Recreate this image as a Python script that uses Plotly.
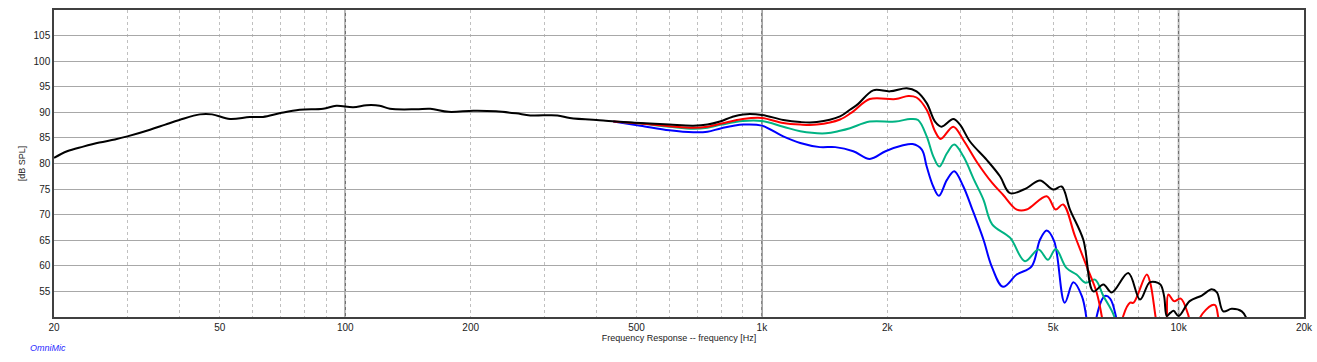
import plotly.graph_objects as go

# ---- data (frequency in Hz, level in dB SPL) ----
black_f = [20, 21.5, 23.5, 25.7, 28, 30, 34, 37, 40, 44.8, 47.9, 52.9, 59, 63.5, 69.9, 77.7, 88.5, 95.2,
           104.5, 112.5, 121, 128, 148, 160, 177, 203, 230, 257, 278, 323, 346, 416, 446, 511, 600, 684,
           740, 793, 848, 902, 1000, 1125, 1236, 1354, 1540, 1627, 1700, 1850, 2030, 2226, 2350, 2486,
           2603, 2700, 2879, 2988, 3158, 3464, 3727, 3940, 4320, 4649, 5005, 5240, 5488, 5907, 6244,
           6600, 6911, 7574, 8083, 8540, 9030, 9230, 9370, 9550, 9730, 10000, 10630, 11370, 12010,
           12360, 12800, 13410, 14180, 14600]
black_db = [81.1, 82.4, 83.3, 84.1, 84.7, 85.3, 86.6, 87.6, 88.5, 89.6, 89.6, 88.7, 89.1, 89.1, 89.85, 90.5,
            90.7, 91.3, 91.0, 91.4, 91.3, 90.7, 90.6, 90.7, 90.1, 90.3, 90.2, 89.8, 89.4, 89.4, 88.9, 88.4,
            88.2, 87.9, 87.6, 87.4, 87.6, 88.2, 89.1, 89.6, 89.5, 88.5, 88.1, 88.1, 89.2, 90.5, 91.6, 94.3,
            94.1, 94.7, 94.1, 91.8, 88.2, 87.2, 88.7, 87.6, 84.3, 80.7, 77.5, 74.2, 75.2, 76.7, 74.9, 75.5,
            71.0, 65.1, 55.0, 56.35, 54.8, 58.6, 53.4, 56.8, 56.4, 54.1, 50.2, 50.8, 51.2, 50.2, 53.1, 54.2,
            55.4, 54.8, 51.1, 51.6, 51.1, 49.5]

red_f = [440, 511, 600, 684, 740, 800, 900, 1000, 1125, 1236, 1354, 1540, 1657, 1815, 2094, 2246, 2350,
         2486, 2603, 2685, 2879, 3044, 3292, 3570, 3790, 4089, 4320, 4825, 5072, 5283, 5642, 6018, 6364,
         6540, 6700, 7200, 7366, 7650, 7800, 8386, 8550, 8800, 9000, 9330, 9450, 9750, 10120, 10540,
         10800, 11100, 11280, 12010, 12250, 12450, 12700]
red_db = [88.2, 87.8, 87.3, 87.0, 87.2, 87.8, 88.7, 88.9, 87.9, 87.6, 87.6, 88.6, 90.2, 92.6, 92.6, 93.2,
          92.9, 90.5, 86.3, 84.8, 87.2, 84.6, 80.1, 76.2, 73.9, 71.0, 71.0, 73.6, 71.0, 72.0, 65.8, 59.9,
          54.7, 50.2, 45, 45, 50.2, 52.8, 52.8, 58.3, 56.7, 50.2, 45, 48, 54.4, 53.1, 53.6, 50.5, 47, 47,
          50.0, 52.3, 52.3, 50.0, 46]

green_f = [460, 511, 600, 684, 740, 800, 900, 1000, 1125, 1236, 1425, 1540, 1627, 1815, 2094, 2270, 2370,
           2486, 2578, 2665, 2780, 2895, 3044, 3230, 3403, 3570, 3940, 4280, 4610, 4860, 5072, 5380, 5690,
           5980, 6300, 6600, 7000, 7200]
green_db = [88.1, 87.8, 87.2, 86.8, 87.0, 87.6, 88.3, 88.3, 87.2, 86.3, 85.9, 86.4, 86.9, 88.2, 88.2, 88.7,
            88.5, 85.3, 81.4, 79.4, 82.0, 83.7, 81.4, 76.8, 72.9, 68.1, 65.5, 60.9, 63.2, 61.2, 63.3, 59.6,
            58.3, 56.7, 57.3, 54.1, 50.2, 45]

blue_f = [440, 511, 600, 684, 740, 800, 902, 1000, 1125, 1236, 1378, 1500, 1657, 1815, 1980, 2170, 2300,
          2420, 2486, 2578, 2660, 2780, 2895, 3044, 3200, 3403, 3560, 3790, 4089, 4440, 4649, 4825, 5030,
          5330, 5590, 5860, 6000, 6100, 6300, 6364, 6660, 6850, 7070, 7200]
blue_db = [88.2, 87.4, 86.5, 86.1, 86.2, 86.9, 87.6, 87.4, 85.3, 84.0, 83.2, 83.2, 82.4, 80.9, 82.4, 83.5,
           83.8, 82.7, 79.4, 75.5, 73.7, 76.8, 78.5, 75.5, 71.0, 65.1, 59.9, 55.9, 58.3, 59.9, 65.1, 66.9,
           64.8, 52.8, 56.8, 54.1, 50.2, 45, 45, 50.2, 54.1, 53.6, 50.2, 45]

x_tickvals = [20, 50, 100, 200, 500, 1000, 2000, 5000, 10000, 20000]
x_ticktext = ["20", "50", "100", "200", "500", "1k", "2k", "5k", "10k", "20k"]
x_minor = [30, 40, 60, 70, 80, 90, 300, 400, 600, 700, 800, 900,
           3000, 4000, 6000, 7000, 8000, 9000]
x_decades = [100, 1000, 10000]
y_tickvals = [55, 60, 65, 70, 75, 80, 85, 90, 95, 100, 105]

fig = go.Figure()
for f, d, c in [(blue_f, blue_db, "#0000ff"), (green_f, green_db, "#00b383"),
                (red_f, red_db, "#ff0000"), (black_f, black_db, "#000000")]:
    fig.add_trace(go.Scatter(x=f, y=d, mode="lines", line=dict(color=c, width=2),
                             line_shape="spline", showlegend=False, hoverinfo="skip"))

for v in x_decades:
    fig.add_shape(type="line", xref="x", yref="paper", x0=v, x1=v, y0=0, y1=1,
                  line=dict(color="#707070", width=1.5), layer="below")

font = "Liberation Sans, Arial, sans-serif"
fig.update_layout(
    width=1317, height=362,
    margin=dict(l=54, r=13, t=10, b=45),
    paper_bgcolor="white", plot_bgcolor="white",
    font=dict(family=font, size=10, color="#222222"),
    xaxis=dict(
        type="log", range=[1.30103, 4.30103], automargin=False,
        tickvals=x_tickvals, ticktext=x_ticktext, ticks="",
        showgrid=True, gridcolor="#c0c0c0", griddash="dot", gridwidth=1,
        minor=dict(tickvals=x_minor, showgrid=True, gridcolor="#c0c0c0", griddash="dot", ticks=""),
        showline=True, linecolor="#404040", linewidth=1.5, mirror=True,
        zeroline=False,
        title=dict(text="Frequency Response -- frequency [Hz]", standoff=3,
                   font=dict(size=9, color="#222222")),
        tickfont=dict(size=10, color="#222222"),
    ),
    yaxis=dict(
        range=[50, 110], tickvals=y_tickvals, ticks="", automargin=False,
        showgrid=True, gridcolor="#a8a8a8", gridwidth=1.3,
        showline=True, linecolor="#404040", linewidth=1.5, mirror=True,
        zeroline=False,
        title=dict(text="[dB SPL]", standoff=6, font=dict(size=9, color="#222222")),
        tickfont=dict(size=10, color="#222222"),
    ),
    annotations=[dict(text="<i>OmniMic</i>", xref="paper", yref="paper", x=-0.021, y=-0.101,
                      xanchor="left", yanchor="middle", showarrow=False,
                      font=dict(family=font, size=9, color="#2a2aff"))],
)

fig.write_html("out.html", config={"displayModeBar": False},
               post_script="document.body.style.margin='0';document.body.style.overflow='hidden';")
